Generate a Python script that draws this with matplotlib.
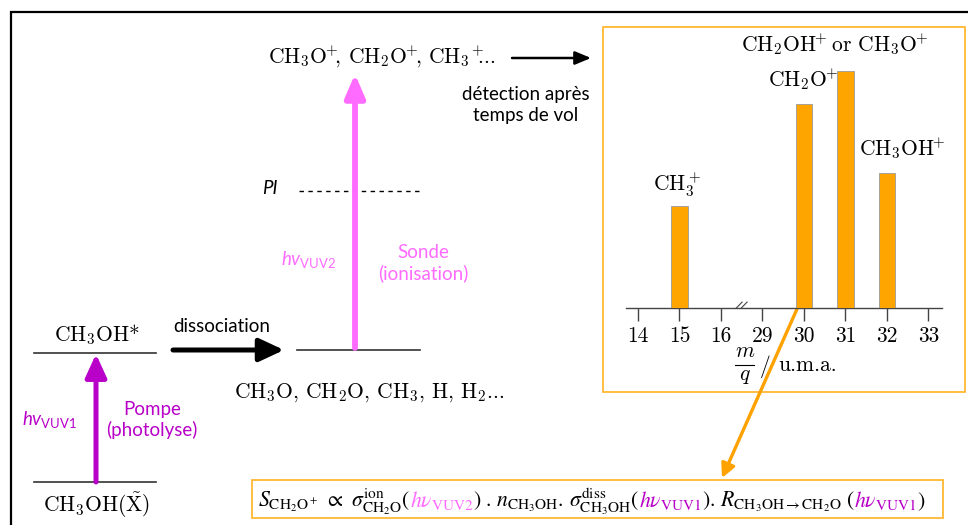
import matplotlib
matplotlib.use("Agg")
import matplotlib.pyplot as plt
from matplotlib.patches import Rectangle

# sans text in the diagram goes through the "custom" math set
plt.rcParams["mathtext.fontset"] = "custom"
plt.rcParams["mathtext.rm"] = "Lato"
plt.rcParams["mathtext.it"] = "Lato:italic"
plt.rcParams["font.family"] = "Lato"

# mass spectrum (relative intensities)
mq_labels = ["14", "15", "16", "29", "30", "31", "32", "33"]
peak_mq = ["15", "30", "31", "32"]
peak_int = [0.43, 0.86, 1.0, 0.57]
peak_names = [r"$\mathrm{CH}_3^+$", r"$\mathrm{CH_2O}^{\!\!+}$",
              r"$\mathrm{CH_2OH}^{\!\!+}\!\!$ or $\mathrm{CH_3O}^{\!\!+}$",
              r"$\mathrm{CH_3OH}^{\!\!+}$"]

W, H = 968, 525
BAR = "#FFA500"
BOX = "#FFB833"
PUMP = "#B800C8"
PROBE = "#FF6BFF"
CM = dict(family="cmr10", math_fontfamily="cm")

fig = plt.figure(figsize=(W / 100, H / 100), dpi=100)
ax = fig.add_axes([0, 0, 1, 1])
ax.set_xlim(0, W)
ax.set_ylim(H, 0)
ax.axis("off")


def arrow(x0, y0, x1, y1, color, lw, hw, hl, ms=20):
    ax.annotate("", xy=(x1, y1), xytext=(x0, y0),
                arrowprops=dict(arrowstyle=f"-|>,head_width={hw},head_length={hl}",
                                color=color, lw=lw, shrinkA=0, shrinkB=0,
                                mutation_scale=ms))


# outer frame
ax.plot([11, 11, W], [H, 12, 12], color="black", lw=1.6, solid_joinstyle="miter")

# --- pump step
ax.plot([34, 156], [353, 353], color="#333333", lw=1.2)
ax.plot([34, 156], [482, 482], color="#333333", lw=1.2)
ax.text(97, 341, "CH$_3$OH*", ha="center", va="baseline", fontsize=15.5, **CM)
ax.text(97, 512, r"CH$_3$OH($\tilde{\mathrm{X}}$)", ha="center", va="baseline",
        fontsize=15.5, **CM)
arrow(96, 482, 96, 354, PUMP, 3.6, 0.32, 0.7)
ax.text(50, 420, r"$\mathit{hv}_{\mathrm{VUV1}}$", color=PUMP, ha="center",
        va="center", fontsize=13.5)
ax.text(152, 420, "Pompe\n(photolyse)", color=PUMP, ha="center", va="center",
        fontsize=13.5, linespacing=1.2)

# --- dissociation
arrow(173, 350, 284, 350, "black", 3.6, 0.35, 0.75)
ax.text(222, 332, "dissociation", ha="center", va="baseline", fontsize=13.5)
ax.plot([297, 420], [350, 350], color="#333333", lw=1.2)
ax.text(369, 398, "CH$_3$O, CH$_2$O, CH$_3$, H, H$_2$...", ha="center",
        va="baseline", fontsize=15.5, **CM)

# --- probe step
ax.plot([299, 423], [191, 191], color="black", lw=1, ls=(0, (3.2, 3.2)))
ax.text(270, 189, "PI", style="italic", ha="center", va="center", fontsize=13.5)
arrow(355, 348, 355, 74, PROBE, 4.2, 0.3, 0.7)
ax.text(309, 259, r"$\mathit{hv}_{\mathrm{VUV2}}$", color=PROBE, ha="center",
        va="center", fontsize=13.5)
ax.text(423, 263, "Sonde\n(ionisation)", color=PROBE, ha="center", va="center",
        fontsize=13.5, linespacing=1.2)
ax.text(382, 63,
        r"$\mathrm{CH_3O}^{\!\!+}\!\!\mathrm{,}$ $\mathrm{CH_2O}^{\!\!+}\!\!\mathrm{,}$ "
        r"$\mathrm{CH_3}{}^{\!+}\!\!\!$...",
        ha="center", va="baseline", fontsize=15.5, **CM)
arrow(512, 58, 591, 58, "black", 1.8, 0.25, 0.6, ms=16)
ax.text(526, 105, "détection après\ntemps de vol", ha="center", va="center",
        fontsize=13.5, linespacing=1.3)

# --- time-of-flight spectrum panel
ax.add_patch(Rectangle((603, 27), 362, 365, fill=False, edgecolor=BOX, lw=1.3))

x0, x1, ybase, ytop = 626, 942, 308, 40
sp = fig.add_axes([x0 / W, 1 - ybase / H, (x1 - x0) / W, (ybase - ytop) / H])
sp.patch.set_alpha(0)
pos = [mq_labels.index(m) for m in peak_mq]
sp.bar(pos, peak_int, width=0.4, color=BAR, edgecolor="#9a9a9a", lw=0.6, zorder=3)
ymax = max(peak_int) * (ybase - ytop) / 237
sp.set_xlim(-0.29, 7.33)
sp.set_ylim(0, ymax)
for s in ["left", "right", "top"]:
    sp.spines[s].set_visible(False)
sp.spines["bottom"].set_color("#444444")
sp.spines["bottom"].set_linewidth(1.0)
sp.set_yticks([])
sp.set_xticks(range(len(mq_labels)))
sp.set_xticklabels(mq_labels, fontsize=15.5, family="cmr10")
sp.tick_params(axis="x", direction="out", length=9, width=1.0, color="#444444", pad=4)

name_dx = [-0.06, -0.02, -0.27, 0.36]
name_dy = [0.03, 0.05, 0.06, 0.05]
for p, v, n, dx, dy in zip(pos, peak_int, peak_names, name_dx, name_dy):
    sp.text(p + dx, v + dy, n, ha="center", va="bottom", fontsize=15.5, **CM)

# axis break
for off in (-0.06, 0.06):
    sp.plot([2.43 + off, 2.57 + off], [0.0, 0.025], color="#444444", lw=0.8,
            clip_on=False)

# m/q axis label, drawn as a stacked fraction
ax.text(745, 357, r"$m$", ha="center", va="baseline", fontsize=15.5, **CM)
ax.plot([735, 754], [365, 365], color="black", lw=0.8)
ax.text(745, 380, r"$q$", ha="center", va="baseline", fontsize=15.5, **CM)
ax.text(765, 366, r"$/$", ha="center", va="center", fontsize=15.5, **CM)
ax.text(778, 371, "u.m.a.", ha="left", va="baseline", fontsize=15.5, **CM)

# link from the CH2O+ peak to the signal expression
arrow(797, 309, 722, 478, "#FFA200", 2.4, 0.3, 0.6, ms=14)

# --- signal expression
ax.add_patch(Rectangle((252, 480), 691, 38, fill=False, edgecolor=BOX, lw=1.3))
pieces = [
    (r"$S_{\mathrm{CH_2O^+}}\ \propto\ \sigma^{\mathrm{ion}}_{\mathrm{CH_2O}}($", "black"),
    (r"$h\nu_{\mathrm{VUV2}}$", PROBE),
    (r"$)\ .\,n_{\mathrm{CH_3OH}}.\,\sigma^{\mathrm{diss}}_{\mathrm{CH_3OH}}($", "black"),
    (r"$h\nu_{\mathrm{VUV1}}$", PUMP),
    (r"$).\,R_{\mathrm{CH_3OH\rightarrow CH_2O}}\ ($", "black"),
    (r"$h\nu_{\mathrm{VUV1}}$", PUMP),
    (r"$)$", "black"),
]
renderer = fig.canvas.get_renderer()
xc = 258
for s, c in pieces:
    t = ax.text(xc, 507, s, color=c, ha="left", va="baseline", fontsize=15.7,
                math_fontfamily="stix")
    xc += t.get_window_extent(renderer).width

fig.savefig("out.png", dpi=100)
